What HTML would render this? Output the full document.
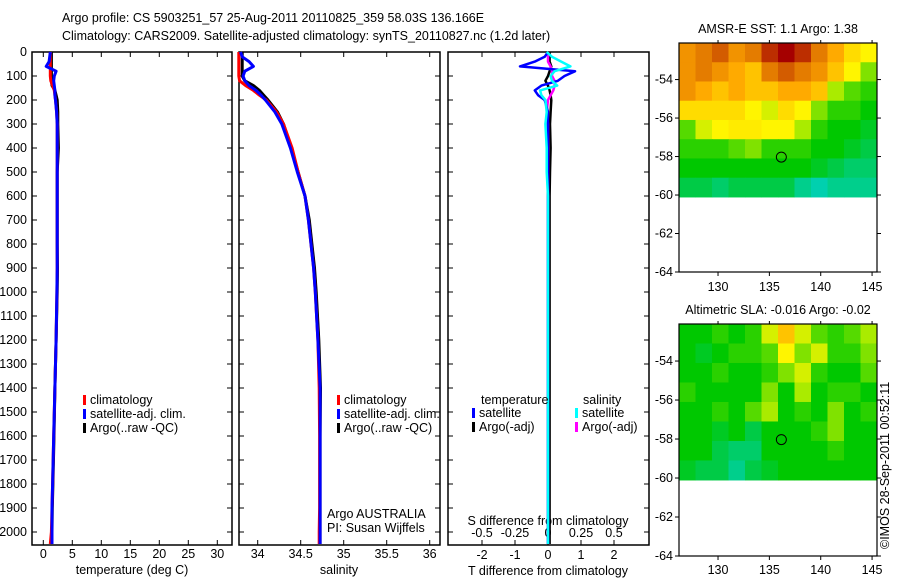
<!DOCTYPE html>
<html><head><meta charset="utf-8"><style>
body{margin:0;background:#fff}
svg text{font-family:"Liberation Sans",sans-serif;font-size:12.5px;fill:#000}
</style></head><body>
<svg id="c" width="900" height="580" xmlns="http://www.w3.org/2000/svg"></svg>
<script>
const depths=[0,20,40,60,80,100,120,140,160,180,200,250,300,400,500,600,700,800,900,1000,1200,1400,1600,1800,1900,2000,2050];
const tempClim=[1.2,1.2,1.2,1.2,1.2,1.2,1.3,1.6,1.9,2.0,2.1,2.3,2.4,2.4,2.4,2.4,2.4,2.4,2.4,2.35,2.2,2.0,1.8,1.6,1.5,1.4,1.2];
const tempSat=[1.2,1.1,1.0,0.5,2.2,1.9,1.8,1.9,2.0,2.0,2.1,2.3,2.4,2.4,2.4,2.4,2.4,2.4,2.4,2.35,2.2,2.0,1.8,1.6,1.5,1.5,1.5];
const tempArgo=[1.4,1.4,1.4,1.4,1.4,1.4,1.4,1.5,2.0,2.2,2.4,2.5,2.5,2.6,2.4,2.4,2.4,2.4,2.45,2.4,2.2,2.0,1.85,1.65,1.55,1.5,1.5];
const salClim=[33.78,33.78,33.78,33.78,33.78,33.78,33.79,33.86,33.95,34.02,34.1,34.22,34.3,34.4,34.47,34.55,34.59,34.62,34.65,34.67,34.70,34.715,34.72,34.72,34.72,34.715,34.715];
const salSat=[33.8,33.82,33.9,33.95,33.85,33.83,33.85,33.9,33.98,34.04,34.09,34.2,34.28,34.38,34.46,34.55,34.59,34.62,34.65,34.67,34.70,34.725,34.725,34.725,34.725,34.725,34.725];
const salArgo=[33.82,33.82,33.82,33.82,33.82,33.82,33.85,33.95,34.02,34.07,34.12,34.23,34.3,34.39,34.47,34.55,34.6,34.63,34.66,34.68,34.71,34.73,34.725,34.725,34.725,34.725,34.725];
const dTSat=[0,-0.1,-0.4,-0.85,0.82,0.5,0.3,-0.2,-0.4,-0.3,-0.1,0,0,0,0,0,0,0,0,0,0,0,0,0,0,0,0];
const dTArgo=[0.05,0.05,0.05,0.1,0.05,0.0,-0.08,0.0,0.05,0.08,0.1,0.08,0.06,0.08,0.06,0.05,0.05,0.05,0.05,0.05,0.05,0.05,0.05,0.05,0.05,0.05,0.05];
const dSSat=[-0.01,0.03,0.1,0.17,0.05,0.02,0.03,0.07,-0.06,-0.05,-0.02,-0.01,-0.02,-0.01,-0.01,0,0,0,0,0,0,0,0,0,0,0,0];
const dSArgo=[0.0,0.0,0.0,0.02,0.03,0.03,0.05,0.05,0.04,0.02,0.0,-0.01,0,0,0,0,0,0,0,0,0,0,0,0,0,0,0];
const tTicks=[0,5,10,15,20,25,30];
const sTicks=[34,34.5,35,35.5,36];
const dTTicks=[-2,-1,0,1,2];
const dSTicks=["-0.5","-0.25","0","0.25","0.5"];
const depthTicks=[0,100,200,300,400,500,600,700,800,900,1000,1100,1200,1300,1400,1500,1600,1700,1800,1900,2000];
const lonTicks=[130,135,140,145];
const latTicks=[-54,-56,-58,-60,-62,-64];
const sstGrid=[
[0.8,0.85,0.9,0.8,0.85,0.95,1,0.95,0.85,0.75,0.65,0.6],
[0.8,0.85,0.8,0.75,0.7,0.85,0.9,0.85,0.8,0.7,0.6,0.45],
[0.8,0.75,0.7,0.75,0.7,0.7,0.75,0.75,0.7,0.5,0.4,0.35],
[0.65,0.65,0.65,0.65,0.6,0.55,0.65,0.6,0.45,0.35,0.35,0.3],
[0.4,0.55,0.6,0.62,0.62,0.6,0.6,0.5,0.35,0.3,0.3,0.25],
[0.35,0.35,0.35,0.4,0.45,0.35,0.35,0.35,0.3,0.3,0.25,0.2],
[0.3,0.3,0.3,0.3,0.3,0.3,0.3,0.3,0.25,0.2,0.15,0.15],
[0.2,0.2,0.15,0.2,0.2,0.2,0.2,0.1,0.05,0.1,0.1,0.1]];
const slaGrid=[
[0.3,0.3,0.35,0.3,0.35,0.55,0.7,0.55,0.4,0.35,0.4,0.5],
[0.3,0.25,0.3,0.35,0.35,0.4,0.6,0.45,0.55,0.35,0.35,0.45],
[0.3,0.3,0.35,0.3,0.3,0.35,0.45,0.55,0.35,0.3,0.3,0.4],
[0.35,0.3,0.3,0.3,0.3,0.45,0.3,0.5,0.3,0.35,0.35,0.3],
[0.3,0.3,0.35,0.3,0.4,0.5,0.3,0.35,0.3,0.45,0.3,0.35],
[0.3,0.3,0.25,0.3,0.2,0.3,0.3,0.3,0.35,0.45,0.3,0.3],
[0.3,0.3,0.2,0.15,0.15,0.3,0.3,0.3,0.3,0.35,0.3,0.3],
[0.25,0.2,0.2,0.1,0.2,0.25,0.3,0.3,0.3,0.3,0.3,0.3]];
const floatPos=[136.166,-58.03];

const svg=document.getElementById('c');
const NS='http://www.w3.org/2000/svg';
function mk(tag,a,parent){const e=document.createElementNS(NS,tag);for(const k in a)e.setAttribute(k,a[k]);(parent||svg).appendChild(e);return e;}
function txt(x,y,s,anchor){const t=mk('text',{x:x,y:y,'text-anchor':anchor||'start'});t.textContent=s;return t;}
const yD=d=>52+d*0.24;
const TOP=52,BOT=545;
function frame(x0,x1,name){const r=mk('rect',{x:x0,y:TOP,width:x1-x0,height:BOT-TOP,fill:'none',stroke:'#000','stroke-width':1.5});


depthTicks.forEach(d=>{mk('line',{x1:x0,x2:x0+5,y1:yD(d),y2:yD(d),stroke:'#000'});mk('line',{x1:x1,x2:x1-5,y1:yD(d),y2:yD(d),stroke:'#000'});});}
function line(xs,xf,color,name,w){const p=depths.map((d,i)=>xf(xs[i]).toFixed(1)+','+yD(d).toFixed(1)).join(' ');
const e=mk('polyline',{points:p,fill:'none',stroke:color,'stroke-width':w||3,'stroke-linejoin':'round'});

}
let t=txt(62,22,'Argo profile: CS 5903251_57 25-Aug-2011 20110825_359 58.03S 136.166E');


t=txt(62,40,'Climatology: CARS2009. Satellite-adjusted climatology: synTS_20110827.nc (1.2d later)');


const xT=v=>43.3+v*5.8;
frame(32,232,'temperature-panel');
depthTicks.forEach(d=>{const e=txt(27,yD(d)+4,String(d),'end');});
tTicks.forEach(v=>{mk('line',{x1:xT(v),x2:xT(v),y1:BOT,y2:BOT-5,stroke:'#000'});mk('line',{x1:xT(v),x2:xT(v),y1:TOP,y2:TOP+5,stroke:'#000'});const e=txt(xT(v),558,String(v),'middle');});
t=txt(132,574,'temperature (deg C)','middle');
line(tempArgo,xT,'#000','temp-argo-line');
line(tempClim,xT,'#f00','temp-climatology-line');
line(tempSat,xT,'#00f','temp-satellite-line');
function legend(x,y,items,name){const g=mk('g',{});
items.forEach((it,i)=>{mk('rect',{x:x,y:y+i*14-9,width:3,height:10,fill:it[0]},g);const e=mk('text',{x:x+7,y:y+i*14},g);e.textContent=it[1];});}
legend(83,404,[['#f00','climatology'],['#00f','satellite-adj. clim.'],['#000','Argo(..raw -QC)']],'temperature-legend');
const xS=v=>257.7+(v-34)*86;
frame(239,440,'salinity-panel');
sTicks.forEach(v=>{mk('line',{x1:xS(v),x2:xS(v),y1:BOT,y2:BOT-5,stroke:'#000'});mk('line',{x1:xS(v),x2:xS(v),y1:TOP,y2:TOP+5,stroke:'#000'});const e=txt(xS(v),558,String(v),'middle');});
t=txt(339,574,'salinity','middle');
line(salArgo,xS,'#000','salinity-argo-line');
line(salClim,xS,'#f00','salinity-climatology-line');
line(salSat,xS,'#00f','salinity-satellite-line');
legend(337,404,[['#f00','climatology'],['#00f','satellite-adj. clim.'],['#000','Argo(..raw -QC)']],'salinity-legend');
t=txt(327,518,'Argo AUSTRALIA');
t=txt(327,532,'PI: Susan Wijffels');
const xDT=v=>548+v*33;
const xDS=v=>548+v*132;
frame(448,649,'difference-panel');
dTTicks.forEach(v=>{mk('line',{x1:xDT(v),x2:xDT(v),y1:BOT,y2:BOT-5,stroke:'#000'});mk('line',{x1:xDT(v),x2:xDT(v),y1:TOP,y2:TOP+5,stroke:'#000'});const e=txt(xDT(v),559,String(v),'middle');});
dSTicks.forEach(s=>{const e=txt(xDS(parseFloat(s)),537,s,'middle');});
t=txt(548,525,'S difference from climatology','middle');
t=txt(548,575,'T difference from climatology','middle');
line(dTArgo,xDT,'#000','t-diff-argo-line',2.5);
line(dSArgo,xDS,'#f0f','s-diff-argo-line',2.5);
line(dTSat,xDT,'#00f','t-diff-satellite-line',2.5);
line(dSSat,xDS,'#0ff','s-diff-satellite-line',2.5);
t=txt(481,404,'temperature');
t=txt(583,404,'salinity');
legend(472,417,[['#00f','satellite'],['#000','Argo(-adj)']],'t-diff-legend');
legend(575,417,[['#0ff','satellite'],['#f0f','Argo(-adj)']],'s-diff-legend');
const stops=[[0,[0,210,210]],[0.3,[0,200,0]],[0.5,[170,235,0]],[0.6,[255,245,0]],[0.75,[255,170,0]],[0.88,[220,110,0]],[1,[165,0,0]]];
function cmap(v){for(let i=1;i<stops.length;i++){if(v<=stops[i][0]){const a=stops[i-1],b=stops[i],f=(v-a[0])/(b[0]-a[0]);return 'rgb('+a[1].map((c,k)=>Math.round(c+(b[1][k]-c)*f)).join(',')+')';}}return 'rgb(165,0,0)';}
function map(x0,y0,y1,grid,title,name,labY){
const lon0=126.2,lon1=145.48,lat0=-52.1,lat1=-64.0;
const X=lo=>x0+(lo-lon0)/(lon1-lon0)*198;
const Y=la=>y0+(la-lat0)/(lat1-lat0)*(y1-y0);
const g=mk('g',{});
const rows=grid.length,cols=grid[0].length,latEnd=-60.1;
grid.forEach((row,r)=>row.forEach((v,c)=>{
const cell=mk('rect',{x:X(lon0+c*(lon1-lon0)/cols),y:Y(lat0+r*(latEnd-lat0)/rows),width:198/cols+0.5,height:(Y(latEnd)-Y(lat0))/rows+0.5,fill:cmap(v)},g);

}));
mk('rect',{x:x0,y:y0,width:198,height:y1-y0,fill:'none',stroke:'#000','stroke-width':1.2},g);
lonTicks.forEach(l=>{mk('line',{x1:X(l),x2:X(l),y1:y1,y2:y1+4,stroke:'#000'},g);mk('line',{x1:X(l),x2:X(l),y1:y0,y2:y0-3,stroke:'#000'},g);const e=mk('text',{x:X(l),y:labY,'text-anchor':'middle'},g);e.textContent=l;});
latTicks.forEach(l=>{mk('line',{x1:x0,x2:x0-4,y1:Y(l),y2:Y(l),stroke:'#000'},g);mk('line',{x1:x0+198,x2:x0+202,y1:Y(l),y2:Y(l),stroke:'#000'},g);const e=mk('text',{x:x0-6,y:Y(l)+4,'text-anchor':'end'},g);e.textContent=l;});
const c=mk('circle',{cx:X(floatPos[0]),cy:Y(floatPos[1]),r:5,fill:'none',stroke:'#000'},g);


const tt=mk('text',{x:x0+99,y:y0-10,'text-anchor':'middle'},g);tt.textContent=title;
}
map(679,43,272,sstGrid,'AMSR-E SST: 1.1 Argo: 1.38','sst-map',291);
map(679,324,556,slaGrid,'Altimetric SLA: -0.016 Argo: -0.02','sla-map',574);
t=mk('text',{x:0,y:0,transform:'translate(889,549) rotate(-90)'});t.textContent='©IMOS 28-Sep-2011 00:52:11';


</script>
</body></html>
